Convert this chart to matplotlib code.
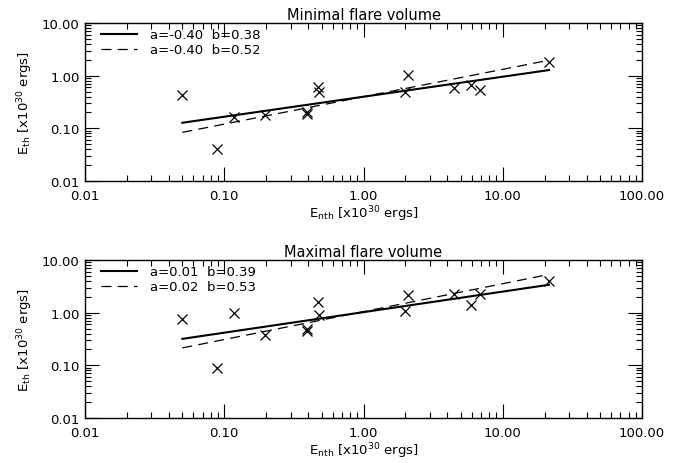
import numpy as np
import matplotlib
matplotlib.use("Agg")
import matplotlib.pyplot as plt
from matplotlib.ticker import LogLocator, FormatStrFormatter, NullFormatter

# non-thermal energies, same flares in both panels [x10^30 ergs]
e_nth = [0.050, 0.089, 0.118, 0.196, 0.39, 0.395, 0.47, 0.48,
         1.98, 2.10, 4.45, 5.95, 6.9, 21.5]

# thermal energies for minimal and maximal flare volume
e_th_min = [0.43, 0.041, 0.162, 0.18, 0.20, 0.187, 0.60, 0.48,
            0.50, 1.03, 0.59, 0.66, 0.54, 1.79]
e_th_max = [0.76, 0.089, 0.99, 0.37, 0.45, 0.50, 1.62, 0.90,
            1.06, 2.16, 2.22, 1.42, 2.26, 3.94]

titles = ["Minimal flare volume", "Maximal flare volume"]

# fit parameters  log10(E_th) = a + b*log10(E_nth)
fit_a_solid = [-0.40, 0.01]
fit_b_solid = [0.38, 0.39]
fit_a_dash = [-0.40, 0.02]
fit_b_dash = [0.52, 0.53]

plt.rcParams['font.family'] = ['DejaVu Sans']
plt.rcParams['font.size'] = 9.5

fig = plt.figure(figsize=(6.89, 4.64), dpi=100)
ax_pos = [[0.1234, 0.6078, 0.8084, 0.3405],
          [0.1234, 0.0970, 0.8084, 0.3405]]

for i, e_th in enumerate([e_th_min, e_th_max]):
    ax = fig.add_axes(ax_pos[i])
    ax.set_xscale("log")
    ax.set_yscale("log")
    ax.set_xlim(0.01, 100.0)
    ax.set_ylim(0.01, 10.0)

    ax.plot(e_nth, e_th, "x", color="k", ms=7.5, mew=0.9, zorder=3)

    xf = np.array([min(e_nth), max(e_nth)])
    ax.plot(xf, 10**(fit_a_solid[i] + fit_b_solid[i]*np.log10(xf)), "-",
            color="k", lw=1.5,
            label="a=%.2f  b=%.2f" % (fit_a_solid[i], fit_b_solid[i]))
    ax.plot(xf, 10**(fit_a_dash[i] + fit_b_dash[i]*np.log10(xf)),
            color="k", lw=0.9, dashes=(8, 5),
            label="a=%.2f  b=%.2f" % (fit_a_dash[i], fit_b_dash[i]))

    ax.xaxis.set_major_locator(LogLocator(base=10))
    ax.yaxis.set_major_locator(LogLocator(base=10))
    ax.xaxis.set_minor_locator(LogLocator(base=10, subs=np.arange(2, 10)))
    ax.yaxis.set_minor_locator(LogLocator(base=10, subs=np.arange(2, 10)))
    ax.xaxis.set_major_formatter(FormatStrFormatter("%.2f"))
    ax.yaxis.set_major_formatter(FormatStrFormatter("%.2f"))
    ax.xaxis.set_minor_formatter(NullFormatter())
    ax.yaxis.set_minor_formatter(NullFormatter())
    ax.tick_params(which="both", direction="in", top=True, right=True,
                   width=0.8)
    ax.tick_params(axis="x", pad=6)
    ax.tick_params(axis="y", pad=4)
    ax.tick_params(which="major", length=10)
    ax.tick_params(which="minor", length=4)
    for sp in ax.spines.values():
        sp.set_linewidth(1.0)

    ax.set_title(titles[i], fontsize=10.5, pad=3)
    ax.set_xlabel(r"E$_{\rm nth}$ [x10$^{30}$ ergs]", labelpad=1)
    ax.set_ylabel(r"E$_{\rm th}$ [x10$^{30}$ ergs]", labelpad=5)

    ax.legend(loc="upper left", bbox_to_anchor=(0.02, 1.0), frameon=False,
              handlelength=2.7, handletextpad=1.0, labelspacing=0.15,
              borderaxespad=0.1, borderpad=0.3, fontsize=9.5)

fig.savefig("out.png", dpi=100)
